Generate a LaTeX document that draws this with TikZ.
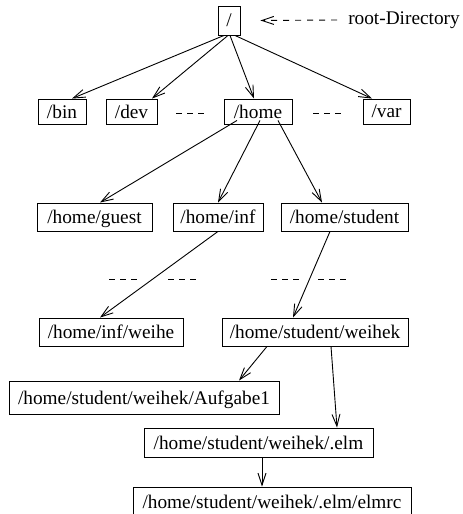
\documentclass[tikz,border=0pt]{standalone}
\usepackage{fontspec}
\setmainfont{Liberation Serif}
\usetikzlibrary{arrows.meta}
\begin{document}
\begin{tikzpicture}[x=1pt,y=-1pt,
  every node/.style={font=\fontsize{19.3}{22}\selectfont, inner sep=0pt},
  dirbox/.style={draw, line width=0.9pt, minimum height=28, text depth=0pt, anchor=center},
  link/.style={line width=0.9pt, -{Straight Barb[length=12pt,width=8pt,line width=0.9pt]}},
  gap/.style={line width=0.9pt, dash pattern=on 6pt off 5pt}]
\useasboundingbox (0,0) rectangle (463,514);

% directory boxes
\node[dirbox, minimum width=22, minimum height=29] (root)    at (229,20.5)  {/};
\node[dirbox, minimum width=48, minimum height=25] (bin)     at (62,111.5)  {/bin};
\node[dirbox, minimum width=51, minimum height=25] (dev)     at (131.5,111.5) {/dev};
\node[dirbox, minimum width=68, minimum height=25] (home)    at (258,111.5) {/home};
\node[dirbox, minimum width=47, minimum height=25] (var)     at (386.5,111.5) {/var};
\node[dirbox, minimum width=115] (guest)   at (94.5,217)  {/home/guest};
\node[dirbox, minimum width=90]  (inf)     at (218,217)   {/home/inf};
\node[dirbox, minimum width=127] (student) at (344.5,217) {/home/student};
\node[dirbox, minimum width=144] (infweihe) at (111,332)  {/home/inf/weihe};
\node[dirbox, minimum width=186] (weihek)  at (315,332)   {/home/student/weihek};
\node[dirbox, minimum width=270, minimum height=33] (aufgabe) at (144,397.5) {/home/student/weihek/Aufgabe1};
\node[dirbox, minimum width=229, minimum height=29] (elm)     at (258.5,442.5) {/home/student/weihek/.elm};
\node[dirbox, minimum width=278, minimum height=29] (elmrc)   at (272,501.5) {/home/student/weihek/.elm/elmrc};

% root label
\node (rootlabel) at (404,20) {root-Directory};
\draw[link, dash pattern=on 6pt off 6pt] ([xshift=-11]rootlabel.west) -- ([xshift=20]root.east);

% connectors
\draw[link] ([xshift=-5]root.south) -- ([xshift=10]bin.north);
\draw[link] ([xshift=-1]root.south) -- ([xshift=20.5]dev.north);
\draw[link] ([xshift=1]root.south)  -- ([xshift=-4]home.north);
\draw[link] ([xshift=6]root.south)  -- ([xshift=-14.5]var.north);

\draw[link] ([xshift=-21,yshift=4]home.south) -- ([xshift=5.5]guest.north);
\draw[link] ([xshift=2,yshift=4]home.south)   -- (inf.north);
\draw[link] ([xshift=20,yshift=4]home.south)  -- ([xshift=-22.5]student.north);

\draw[link] (inf.south) -- ([xshift=-11]infweihe.north);
\draw[link] ([xshift=-14.5]student.south) -- ([xshift=-22]weihek.north);

\draw[link] ([xshift=-48]weihek.south) -- ([xshift=95]aufgabe.north);
\draw[link] ([xshift=16]weihek.south)  -- ([xshift=78.5]elm.north);
\draw[link] ([xshift=3.5]elm.south)    -- ([xshift=-10]elmrc.north);

% omitted siblings
\draw[gap] (176,113) -- (204,113);
\draw[gap] (313,113) -- (341,113);
\draw[gap] (109,279) -- (137,279);
\draw[gap] (168,279) -- (196,279);
\draw[gap] (271,279) -- (299,279);
\draw[gap] (318,279) -- (346,279);
\end{tikzpicture}
\end{document}
